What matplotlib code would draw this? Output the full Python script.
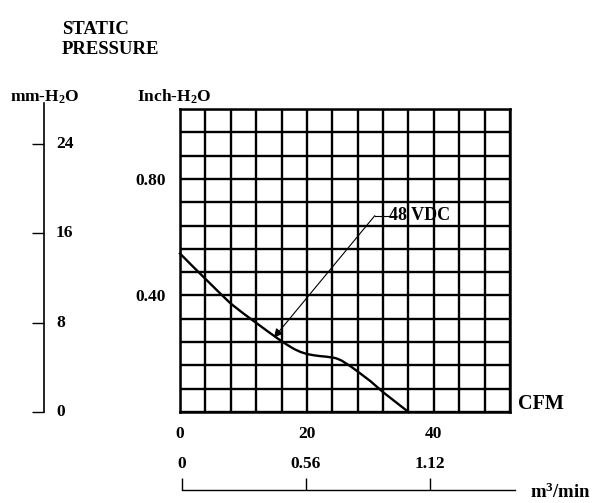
import matplotlib
matplotlib.use("Agg")
import matplotlib.pyplot as plt
from matplotlib.ticker import MultipleLocator, FixedLocator
from matplotlib import transforms

plt.rcParams['font.family'] = ['Liberation Serif', 'DejaVu Serif']
plt.rcParams['font.weight'] = 'bold'
plt.rcParams['mathtext.fontset'] = 'custom'
plt.rcParams['mathtext.rm'] = 'Liberation Serif:bold'
plt.rcParams['mathtext.it'] = 'Liberation Serif:bold'
plt.rcParams['mathtext.bf'] = 'Liberation Serif:bold'

# fan curve, 48 VDC (CFM vs inch H2O)
cfm = [0, 2, 4, 6, 8, 10, 12, 14, 16, 17, 18, 19, 20, 21, 22, 23, 24, 24.5, 25,
       25.5, 26, 26.5, 27, 28, 30, 32, 34, 36]
pressure = [0.544, 0.500, 0.457, 0.414, 0.372, 0.338, 0.306, 0.274, 0.243, 0.229,
            0.216, 0.206, 0.199, 0.195, 0.192, 0.190, 0.187, 0.185, 0.181,
            0.176, 0.169, 0.162, 0.155, 0.139, 0.106, 0.068, 0.034, 0.0]

x_labels = [0, 20, 40]
inch_labels = [0.40, 0.80]
mm_ticks = [0, 8, 16, 24]
m3_ticks = [0, 0.56, 1.12]

curve_label = "48 VDC"
label_xy = (32.9, 0.674)    # where the label text starts
arrow_bend = (30.7, 0.674)
arrow_tip = (14.8, 0.255)

W, H = 593, 503
fig = plt.figure(figsize=(W / 100, H / 100), dpi=100)
fs = 12.5

# main grid
ax = fig.add_axes([180 / W, 1 - 412 / H, 330 / W, 303 / H])
ax.set_xlim(0, 52)
ax.set_ylim(0, 1.04)
ax.xaxis.set_major_locator(FixedLocator(x_labels))
ax.xaxis.set_minor_locator(MultipleLocator(4))
ax.yaxis.set_major_locator(FixedLocator(inch_labels))
ax.yaxis.set_minor_locator(MultipleLocator(0.08))
ax.set_xticklabels([str(v) for v in x_labels])
ax.set_yticklabels(["%.2f" % v for v in inch_labels])
ax.tick_params(which='both', length=0, labelsize=fs)
ax.tick_params(axis='x', pad=10)
ax.tick_params(axis='y', pad=10)
ax.grid(which='both', color='black', linewidth=1.7)
for s in ax.spines.values():
    s.set_linewidth(1.8)

ax.plot(cfm, pressure, color='black', lw=1.7, clip_on=False, zorder=3,
        solid_joinstyle='round')

ax.annotate('', xy=arrow_tip, xytext=arrow_bend,
            arrowprops=dict(arrowstyle='-|>', color='black', lw=0.8,
                            mutation_scale=13, shrinkA=0, shrinkB=0), zorder=4)
ax.plot([arrow_bend[0], label_xy[0]], [arrow_bend[1], label_xy[1]], color='black', lw=0.8, zorder=4)
ax.text(label_xy[0], label_xy[1], curve_label, ha='left', va='center', fontsize=fs + 0.5,
        fontweight='bold', zorder=5)

fig.text(518 / W, 1 - 404 / H, "CFM", ha='left', va='center', fontsize=fs + 2, fontweight='bold')

# mm-H2O scale on the left
ax_mm = fig.add_axes([43.5 / W, 1 - 412 / H, 0.02, 309 / H])
ax_mm.set_ylim(0, 309 / 11.17)
ax_mm.patch.set_visible(False)
for k in ['top', 'right', 'bottom']:
    ax_mm.spines[k].set_visible(False)
ax_mm.spines['left'].set_linewidth(1.2)
ax_mm.set_xticks([])
ax_mm.set_yticks(mm_ticks)
ax_mm.set_yticklabels([])
ax_mm.tick_params(axis='y', direction='out', length=8.4, width=1.0)
tr = transforms.blended_transform_factory(fig.transFigure, ax_mm.transData)
for v in mm_ticks:
    ax_mm.text(56 / W, v, str(v), transform=tr, ha='left', va='center', fontsize=fs)

# m3/min scale at the bottom
ax_m3 = fig.add_axes([182 / W, 1 - 490 / H, 333 / W, 12 / H])
ax_m3.set_xlim(0, 333 / 124 * 0.56)
ax_m3.patch.set_visible(False)
for k in ['top', 'right', 'left']:
    ax_m3.spines[k].set_visible(False)
ax_m3.spines['bottom'].set_linewidth(1.0)
ax_m3.set_yticks([])
ax_m3.set_xticks(m3_ticks)
ax_m3.set_xticklabels(["0" if v == 0 else "%.2f" % v for v in m3_ticks])
ax_m3.tick_params(axis='x', direction='in', length=8.6, width=1.0, bottom=True, top=False,
                  labelbottom=False, labeltop=True, labelsize=fs, pad=4)

fig.text(530 / W, 1 - 492 / H, "m$^3$/min", ha='left', va='center', fontsize=fs + 1, fontweight='bold')

# axis titles
fig.text(10 / W, 1 - 97 / H, "mm-H$_2$O", ha='left', va='center', fontsize=fs, fontweight='bold')
fig.text(137 / W, 1 - 97 / H, "Inch-H$_2$O", ha='left', va='center', fontsize=fs, fontweight='bold')
fig.text(62 / W, 1 - 29 / H, "STATIC", ha='left', va='center', fontsize=fs + 1, fontweight='bold')
fig.text(62 / W, 1 - 50 / H, "PRESSURE", ha='left', va='center', fontsize=fs + 1, fontweight='bold')

fig.savefig("out.png", dpi=100, facecolor='white')
